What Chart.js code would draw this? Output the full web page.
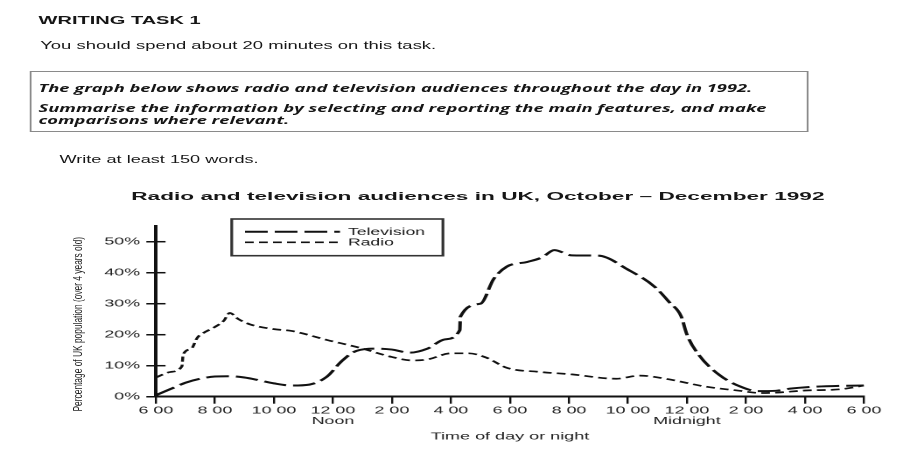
<!DOCTYPE html>
<html>
<head>
<meta charset="utf-8">
<title>Radio and television audiences</title>
<script src="https://cdn.jsdelivr.net/npm/chart.js@4.4.1/dist/chart.umd.min.js"></script>
<style>
  html, body { margin: 0; padding: 0; background: #fff; }
  body { width: 903px; height: 465px; overflow: hidden; position: relative; }
  /* the scanned sheet is stretched sideways, so the whole page is too */
  #page { position: absolute; left: 0; top: 0; width: 516px; height: 465px;
          transform: scaleX(1.75); transform-origin: 0 0; }
  .t { position: absolute; white-space: nowrap; line-height: 1; color: #161616;
       font-family: Arial, "Liberation Sans", sans-serif; transform-origin: 0 50%; }
  .b { font-weight: bold; }
  .task { font-family: "Open Sans", sans-serif; font-weight: bold; font-style: italic; }
  #box { position: absolute; left: 17.1px; top: 71px; width: 443px; height: 59px;
         border: 1px solid #8a8a8a; }
  #wrap { position: absolute; left: 52px; top: 212px; width: 464px; height: 253px; }
  #ylab { position: absolute; white-space: nowrap; line-height: 1; color: #1e1e1e;
          font-family: Arial, "Liberation Sans", sans-serif; font-size: 8.4px; }
</style>
</head>
<body>
<div id="page">
  <div class="t b fit" style="left:22.3px; top:15.3px; font-size:11.5px" data-w="92.6">WRITING TASK 1</div>
  <div class="t fit" style="left:23.2px; top:40.2px; font-size:11px" data-w="226">You should spend about 20 minutes on this task.</div>
  <div id="box"></div>
  <div class="t task fit" style="left:22.3px; top:82.5px; font-size:10.8px" data-w="408">The graph below shows radio and television audiences throughout the day in 1992.</div>
  <div class="t task fit" style="left:22.3px; top:103.2px; font-size:10.8px" data-w="416.4">Summarise the information by selecting and reporting the main features, and make</div>
  <div class="t task fit" style="left:22.3px; top:114.5px; font-size:10.8px" data-w="143.3">comparisons where relevant.</div>
  <div class="t fit" style="left:33.7px; top:153.5px; font-size:11px" data-w="113.9">Write at least 150 words.</div>
  <div class="t b fit" style="left:74.9px; top:191.2px; font-size:11.5px" data-w="396">Radio and television audiences in UK, October – December 1992</div>
  <div id="ylab">Percentage of UK population (over 4 years old)</div>
  <div id="wrap"><canvas id="chart"></canvas></div>
</div>

<script>
// hours after 6 00 in the morning, 0 .. 24
const xTicks = [0, 2, 4, 6, 8, 10, 12, 14, 16, 18, 20, 22, 24];
const xLabels = ['6 00', '8 00', '10 00', ['12 00', 'Noon'], '2 00', '4 00', '6 00',
                 '8 00', '10 00', ['12 00', 'Midnight'], '2 00', '4 00', '6 00'];
const yTicks = [0, 10, 20, 30, 40, 50];

const tvHours = [0, 0.5, 1, 1.5, 2, 2.5, 3, 3.5, 4, 4.6, 5.2, 5.8, 6.3, 6.8, 7.5, 8, 8.6, 9.2,
                 9.8, 10.3, 10.32, 11, 11.45, 11.9, 12.6, 13.1, 13.5, 14.1, 15, 16, 16.9, 17.4,
                 17.8, 18, 18.4, 19.1, 19.8, 20.4, 21, 21.5, 22.1, 23.2, 24];
const tvValues = [0.5, 2.5, 4.5, 5.8, 6.5, 6.6, 6.2, 5.3, 4.3, 3.6, 3.9, 6.5, 11.5, 14.8, 15.5, 15.2, 14.2, 15.5,
                  18.5, 21.5, 25.8, 30, 38, 42, 43.5, 45, 47.3, 45.6, 45.5, 41, 35.5, 30.5,
                  26, 20, 13.5, 7, 3.3, 1.8, 1.9, 2.6, 3.1, 3.5, 3.6];

const radioHours = [0, 0.5, 0.88, 0.92, 1.2, 1.4, 1.6, 2, 2.3, 2.5, 2.8, 3.2, 4, 4.6, 5.8, 6.9, 8,
                    8.7, 9.2, 10, 10.6, 11.2, 11.9, 13, 14.1, 15.6, 16.4, 17.5, 18.6, 19.8, 20.5,
                    21, 22, 23.2, 24];
const radioValues = [6.2, 8, 9.8, 13.5, 15.5, 19, 20.5, 22.5, 24.5, 27, 25, 23.3, 21.8, 21.2, 18.3, 15.8, 12.8,
                     11.7, 12, 14, 14, 12.6, 9.3, 8, 7.2, 5.8, 6.8, 5.4, 3.3, 1.9, 1.2,
                     1.3, 2, 2.4, 3.6];

function toPoints(xs, ys) {
  return xs.map((x, i) => ({ x: x, y: ys[i] }));
}

// squeeze each line of text to the width it has on the sheet
function fitText() {
  document.querySelectorAll('.fit').forEach(el => {
    const w = parseFloat(el.dataset.w);
    el.style.transform = 'scaleX(' + (w / el.offsetWidth) + ')';
  });
  const yl = document.getElementById('ylab');
  const w = yl.offsetWidth, h = yl.offsetHeight;
  yl.style.left = (44.6 - w / 2) + 'px';
  yl.style.top = (324.2 - h / 2) + 'px';
  yl.style.transform = 'rotate(-90deg) scale(' + (175 / w) + ', 0.92)';
}

// boxed legend in the upper left, drawn from the datasets
const boxLegend = {
  id: 'boxLegend',
  afterDraw(chart) {
    const ctx = chart.ctx;
    ctx.save();
    ctx.strokeStyle = '#333';
    ctx.lineWidth = 1.6;
    ctx.strokeRect(80.4, 7, 120.7, 36.7);
    ctx.font = '10px Arial, "Liberation Sans", sans-serif';
    ctx.textBaseline = 'middle';
    const rows = [19.7, 30.3];
    chart.data.datasets.forEach((ds, i) => {
      ctx.strokeStyle = ds.borderColor;
      ctx.lineWidth = ds.borderWidth;
      ctx.setLineDash(ds.borderDash);
      ctx.beginPath();
      ctx.moveTo(88, rows[i]);
      ctx.lineTo(142.3, rows[i]);
      ctx.stroke();
      ctx.setLineDash([]);
      ctx.fillStyle = '#1a1a1a';
      ctx.fillText(ds.label, 146.9, rows[i] + 0.5);
    });
    ctx.restore();
  }
};

// y ticks cross the axis on both sides
const crossTicks = {
  id: 'crossTicks',
  afterDraw(chart) {
    const y = chart.scales.y;
    const ctx = chart.ctx;
    ctx.save();
    ctx.strokeStyle = '#111';
    ctx.lineWidth = 1.5;
    y.ticks.forEach(t => {
      const py = y.getPixelForValue(t.value);
      ctx.beginPath();
      ctx.moveTo(y.right, py);
      ctx.lineTo(y.right + 5.5, py);
      ctx.stroke();
    });
    ctx.restore();
  }
};

function drawChart() {
  new Chart(document.getElementById('chart'), {
    type: 'line',
    data: {
      datasets: [{
        label: 'Television',
        data: toPoints(tvHours, tvValues),
        borderColor: '#111',
        borderWidth: 2,
        borderDash: [13, 4],
        pointRadius: 0,
        cubicInterpolationMode: 'monotone',
        fill: false
      }, {
        label: 'Radio',
        data: toPoints(radioHours, radioValues),
        borderColor: '#111',
        borderWidth: 1.7,
        borderDash: [5, 3],
        pointRadius: 0,
        cubicInterpolationMode: 'monotone',
        fill: false
      }]
    },
    options: {
      responsive: true,
      maintainAspectRatio: false,
      devicePixelRatio: 2,
      animation: false,
      layout: { padding: { left: 0, top: 14.2, right: 22.3, bottom: 0 } },
      plugins: {
        legend: { display: false },
        title: { display: false },
        tooltip: { enabled: false }
      },
      scales: {
        x: {
          type: 'linear',
          min: 0,
          max: 24,
          afterBuildTicks: s => { s.ticks = xTicks.map(v => ({ value: v })); },
          afterFit: s => { s.height = 68.3; },
          ticks: {
            autoSkip: false,
            maxRotation: 0,
            padding: 2,
            color: '#1e1e1e',
            font: { family: 'Arial, "Liberation Sans", sans-serif', size: 10.2, lineHeight: 1.02 },
            callback: (v, i) => xLabels[i]
          },
          grid: { drawOnChartArea: false, drawTicks: true, tickLength: 7, lineWidth: 1.2, color: '#111' },
          border: { display: true, width: 2, color: '#111' },
          title: {
            display: true,
            text: 'Time of day or night',
            color: '#1e1e1e',
            font: { family: 'Arial, "Liberation Sans", sans-serif', size: 10.3, lineHeight: 1.2 },
            padding: { top: 0, bottom: 22.3 }
          }
        },
        y: {
          min: 0,
          max: 55,
          afterBuildTicks: s => { s.ticks = yTicks.map(v => ({ value: v })); },
          afterFit: s => { s.width = 37.1; },
          ticks: {
            padding: 3.6,
            color: '#1e1e1e',
            font: { family: 'Arial, "Liberation Sans", sans-serif', size: 10.2 },
            callback: v => v + '%'
          },
          grid: { drawOnChartArea: false, drawTicks: true, tickLength: 5.5, lineWidth: 1.5, color: '#111' },
          border: { display: true, width: 2, color: '#111' }
        }
      }
    },
    plugins: [boxLegend, crossTicks]
  });
}

fitText();
drawChart();
</script>
</body>
</html>
